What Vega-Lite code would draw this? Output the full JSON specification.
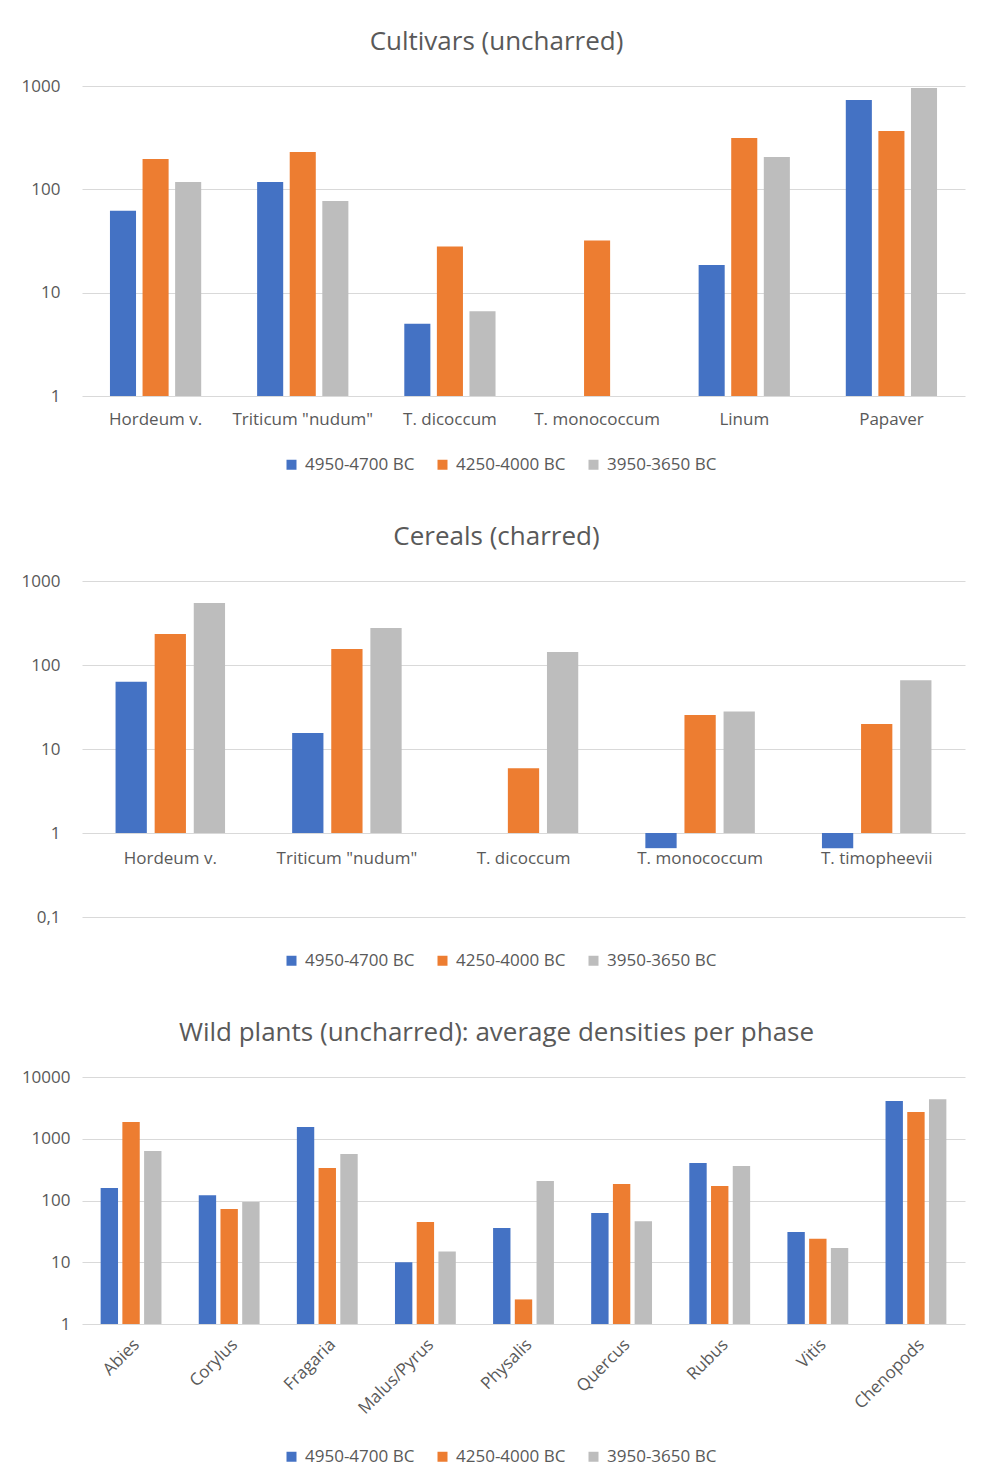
{
  "$schema": "https://vega.github.io/schema/vega-lite/v6.json",
  "background": "white",
  "padding": {"left": 0, "top": 29, "right": 10, "bottom": 5},
  "columns": 1,
  "spacing": 51,
  "datasets": {
    "cultivars": [
      {"taxon": "Hordeum v.", "phase": "4950-4700 BC", "density": 62},
      {"taxon": "Hordeum v.", "phase": "4250-4000 BC", "density": 197},
      {"taxon": "Hordeum v.", "phase": "3950-3650 BC", "density": 118},
      {"taxon": "Triticum \"nudum\"", "phase": "4950-4700 BC", "density": 118},
      {"taxon": "Triticum \"nudum\"", "phase": "4250-4000 BC", "density": 230},
      {"taxon": "Triticum \"nudum\"", "phase": "3950-3650 BC", "density": 77},
      {"taxon": "T. dicoccum", "phase": "4950-4700 BC", "density": 5.0},
      {"taxon": "T. dicoccum", "phase": "4250-4000 BC", "density": 28},
      {"taxon": "T. dicoccum", "phase": "3950-3650 BC", "density": 6.6},
      {"taxon": "T. monococcum", "phase": "4250-4000 BC", "density": 32},
      {"taxon": "Linum", "phase": "4950-4700 BC", "density": 18.5},
      {"taxon": "Linum", "phase": "4250-4000 BC", "density": 314},
      {"taxon": "Linum", "phase": "3950-3650 BC", "density": 206},
      {"taxon": "Papaver", "phase": "4950-4700 BC", "density": 733},
      {"taxon": "Papaver", "phase": "4250-4000 BC", "density": 367},
      {"taxon": "Papaver", "phase": "3950-3650 BC", "density": 955}
    ],
    "cereals": [
      {"taxon": "Hordeum v.", "phase": "4950-4700 BC", "density": 63},
      {"taxon": "Hordeum v.", "phase": "4250-4000 BC", "density": 234},
      {"taxon": "Hordeum v.", "phase": "3950-3650 BC", "density": 548},
      {"taxon": "Triticum \"nudum\"", "phase": "4950-4700 BC", "density": 15.5},
      {"taxon": "Triticum \"nudum\"", "phase": "4250-4000 BC", "density": 155},
      {"taxon": "Triticum \"nudum\"", "phase": "3950-3650 BC", "density": 275},
      {"taxon": "T. dicoccum", "phase": "4250-4000 BC", "density": 5.9},
      {"taxon": "T. dicoccum", "phase": "3950-3650 BC", "density": 143},
      {"taxon": "T. monococcum", "phase": "4950-4700 BC", "density": 0.66},
      {"taxon": "T. monococcum", "phase": "4250-4000 BC", "density": 25.4},
      {"taxon": "T. monococcum", "phase": "3950-3650 BC", "density": 28},
      {"taxon": "T. timopheevii", "phase": "4950-4700 BC", "density": 0.66},
      {"taxon": "T. timopheevii", "phase": "4250-4000 BC", "density": 19.8},
      {"taxon": "T. timopheevii", "phase": "3950-3650 BC", "density": 66}
    ],
    "wild": [
      {"taxon": "Abies", "phase": "4950-4700 BC", "density": 159},
      {"taxon": "Abies", "phase": "4250-4000 BC", "density": 1860},
      {"taxon": "Abies", "phase": "3950-3650 BC", "density": 636},
      {"taxon": "Corylus", "phase": "4950-4700 BC", "density": 122},
      {"taxon": "Corylus", "phase": "4250-4000 BC", "density": 73},
      {"taxon": "Corylus", "phase": "3950-3650 BC", "density": 95},
      {"taxon": "Fragaria", "phase": "4950-4700 BC", "density": 1550},
      {"taxon": "Fragaria", "phase": "4250-4000 BC", "density": 336},
      {"taxon": "Fragaria", "phase": "3950-3650 BC", "density": 566},
      {"taxon": "Malus/Pyrus", "phase": "4950-4700 BC", "density": 10},
      {"taxon": "Malus/Pyrus", "phase": "4250-4000 BC", "density": 45},
      {"taxon": "Malus/Pyrus", "phase": "3950-3650 BC", "density": 15},
      {"taxon": "Physalis", "phase": "4950-4700 BC", "density": 36},
      {"taxon": "Physalis", "phase": "4250-4000 BC", "density": 2.5},
      {"taxon": "Physalis", "phase": "3950-3650 BC", "density": 207},
      {"taxon": "Quercus", "phase": "4950-4700 BC", "density": 63},
      {"taxon": "Quercus", "phase": "4250-4000 BC", "density": 185},
      {"taxon": "Quercus", "phase": "3950-3650 BC", "density": 46},
      {"taxon": "Rubus", "phase": "4950-4700 BC", "density": 405},
      {"taxon": "Rubus", "phase": "4250-4000 BC", "density": 172},
      {"taxon": "Rubus", "phase": "3950-3650 BC", "density": 362},
      {"taxon": "Vitis", "phase": "4950-4700 BC", "density": 31},
      {"taxon": "Vitis", "phase": "4250-4000 BC", "density": 24},
      {"taxon": "Vitis", "phase": "3950-3650 BC", "density": 17},
      {"taxon": "Chenopods", "phase": "4950-4700 BC", "density": 4080},
      {"taxon": "Chenopods", "phase": "4250-4000 BC", "density": 2700},
      {"taxon": "Chenopods", "phase": "3950-3650 BC", "density": 4380}
    ]
  },
  "resolve": {"legend": {"color": "independent"}, "scale": {"xOffset": "independent", "x": "independent", "y": "independent"}},
  "concat": [
    {
      "data": {"name": "cultivars"},
      "title": {"text": "Cultivars (uncharred)", "offset": 22, "dx": 14},
      "width": 883,
      "height": 310,
      "mark": {"type": "bar"},
      "encoding": {
        "x": {"field": "taxon", "type": "nominal", "sort": null, "title": null,
              "scale": {"paddingInner": 0.38, "paddingOuter": 0.19},
              "axis": {"labelAngle": 0, "labelPadding": 15}},
        "xOffset": {"field": "phase", "type": "nominal", "sort": ["4950-4700 BC", "4250-4000 BC", "3950-3650 BC"],
                    "scale": {"paddingInner": 0.2, "paddingOuter": 0}},
        "y": {"field": "density", "type": "quantitative", "title": null,
              "scale": {"type": "log", "domain": [1, 1000], "nice": false},
              "axis": {"values": [1, 10, 100, 1000], "labelPadding": 22, "minExtent": 82,
                       "labelExpr": "replace(format(datum.value, '~g'), '.', ',')"}},
        "y2": {"datum": 1},
        "color": {"field": "phase", "type": "nominal", "title": null,
                  "scale": {"domain": ["4950-4700 BC", "4250-4000 BC", "3950-3650 BC"], "range": ["#4472C4", "#ED7D31", "#BDBDBD"]},
                  "legend": {"orient": "none", "direction": "horizontal", "legendX": 201, "legendY": 370}}
      }
    },
    {
      "data": {"name": "cereals"},
      "title": {"text": "Cereals (charred)", "offset": 22, "dx": 14},
      "width": 883,
      "height": 336,
      "mark": {"type": "bar"},
      "encoding": {
        "x": {"field": "taxon", "type": "nominal", "sort": null, "title": null,
              "scale": {"paddingInner": 0.38, "paddingOuter": 0.19},
              "axis": {"labelAngle": 0, "labelPadding": 17, "offset": -84}},
        "xOffset": {"field": "phase", "type": "nominal", "sort": ["4950-4700 BC", "4250-4000 BC", "3950-3650 BC"],
                    "scale": {"paddingInner": 0.2, "paddingOuter": 0}},
        "y": {"field": "density", "type": "quantitative", "title": null,
              "scale": {"type": "log", "domain": [0.1, 1000], "nice": false},
              "axis": {"values": [0.1, 1, 10, 100, 1000], "labelPadding": 22, "minExtent": 82,
                       "labelExpr": "replace(format(datum.value, '~g'), '.', ',')"}},
        "y2": {"datum": 1},
        "color": {"field": "phase", "type": "nominal", "title": null,
                  "scale": {"domain": ["4950-4700 BC", "4250-4000 BC", "3950-3650 BC"], "range": ["#4472C4", "#ED7D31", "#BDBDBD"]},
                  "legend": {"orient": "none", "direction": "horizontal", "legendX": 201, "legendY": 371}}
      }
    },
    {
      "data": {"name": "wild"},
      "title": {"text": "Wild plants (uncharred): average densities per phase", "offset": 22, "dx": 14},
      "width": 883,
      "height": 247,
      "mark": {"type": "bar"},
      "encoding": {
        "x": {"field": "taxon", "type": "nominal", "sort": null, "title": null,
              "scale": {"paddingInner": 0.38, "paddingOuter": 0.19},
              "axis": {"labelAngle": -45, "labelPadding": 12}},
        "xOffset": {"field": "phase", "type": "nominal", "sort": ["4950-4700 BC", "4250-4000 BC", "3950-3650 BC"],
                    "scale": {"paddingInner": 0.2, "paddingOuter": 0}},
        "y": {"field": "density", "type": "quantitative", "title": null,
              "scale": {"type": "log", "domain": [1, 10000], "nice": false},
              "axis": {"values": [1, 10, 100, 1000, 10000], "labelPadding": 12, "minExtent": 82,
                       "labelExpr": "replace(format(datum.value, '~g'), '.', ',')"}},
        "y2": {"datum": 1},
        "color": {"field": "phase", "type": "nominal", "title": null,
                  "scale": {"domain": ["4950-4700 BC", "4250-4000 BC", "3950-3650 BC"], "range": ["#4472C4", "#ED7D31", "#BDBDBD"]},
                  "legend": {"orient": "none", "direction": "horizontal", "legendX": 201, "legendY": 371}}
      }
    }
  ],
  "config": {
    "font": "Open Sans",
    "view": {"stroke": null},
    "title": {"fontSize": 26, "fontWeight": "normal", "color": "#595959", "frame": "bounds", "anchor": "middle"},
    "axis": {"labelFont": "Open Sans", "labelFontSize": 17, "labelColor": "#595959", "ticks": false, "domain": false, "gridColor": "#D9D9D9", "gridWidth": 1},
    "axisX": {"grid": false},
    "axisY": {"grid": true},
    "legend": {"labelFont": "Open Sans", "labelFontSize": 17, "labelColor": "#595959", "symbolType": "square", "symbolSize": 100, "symbolStrokeWidth": 0, "columnPadding": 19, "labelOffset": 5}
  }
}
